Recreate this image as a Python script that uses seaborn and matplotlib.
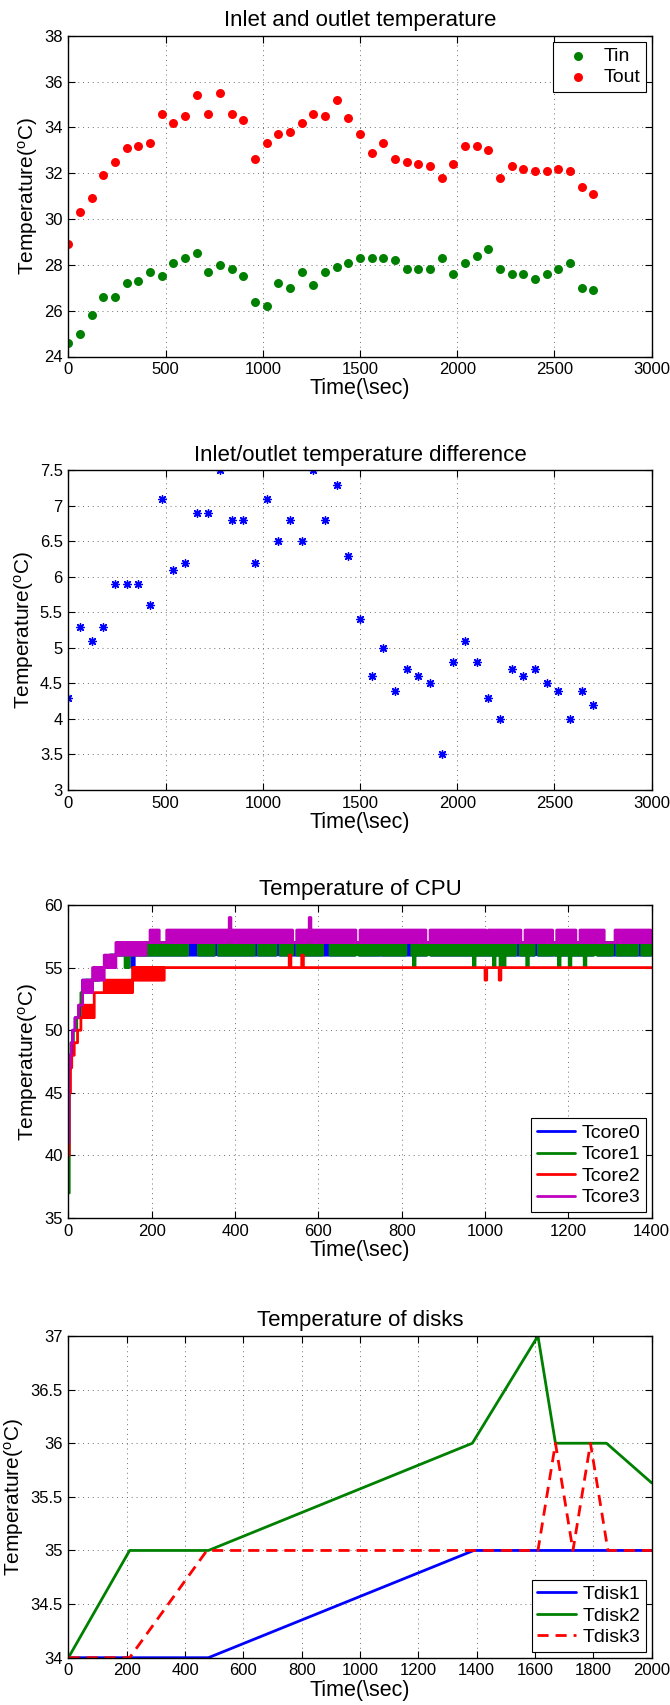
import numpy as np
import pandas as pd
import matplotlib
matplotlib.use("Agg")
import matplotlib.pyplot as plt
from matplotlib.ticker import FormatStrFormatter
import seaborn as sns

# ---------------- data: inlet / outlet ----------------
TIME_S = [0, 60, 120, 180, 240, 300, 360, 420, 480, 540, 600, 660, 720, 780, 840, 900,
          960, 1020, 1080, 1140, 1200, 1260, 1320, 1380, 1440, 1500, 1560, 1620, 1680,
          1740, 1800, 1860, 1920, 1980, 2040, 2100, 2160, 2220, 2280, 2340, 2400, 2460,
          2520, 2580, 2640, 2700]
T_IN = [24.6, 25.0, 25.8, 26.6, 26.6, 27.2, 27.3, 27.7, 27.5, 28.1, 28.3, 28.5, 27.7, 28.0,
        27.8, 27.5, 26.4, 26.2, 27.2, 27.0, 27.7, 27.1, 27.7, 27.9, 28.1, 28.3, 28.3, 28.3,
        28.2, 27.8, 27.8, 27.8, 28.3, 27.6, 28.1, 28.4, 28.7, 27.8, 27.6, 27.6, 27.4, 27.6,
        27.8, 28.1, 27.0, 26.9]
T_OUT = [28.9, 30.3, 30.9, 31.9, 32.5, 33.1, 33.2, 33.3, 34.6, 34.2, 34.5, 35.4, 34.6, 35.5,
         34.6, 34.3, 32.6, 33.3, 33.7, 33.8, 34.2, 34.6, 34.5, 35.2, 34.4, 33.7, 32.9, 33.3,
         32.6, 32.5, 32.4, 32.3, 31.8, 32.4, 33.2, 33.2, 33.0, 31.8, 32.3, 32.2, 32.1, 32.1,
         32.2, 32.1, 31.4, 31.1]
T_DIFF = [4.3, 5.3, 5.1, 5.3, 5.9, 5.9, 5.9, 5.6, 7.1, 6.1, 6.2, 6.9, 6.9, 7.5, 6.8, 6.8,
          6.2, 7.1, 6.5, 6.8, 6.5, 7.5, 6.8, 7.3, 6.3, 5.4, 4.6, 5.0, 4.4, 4.7, 4.6, 4.5,
          3.5, 4.8, 5.1, 4.8, 4.3, 4.0, 4.7, 4.6, 4.7, 4.5, 4.4, 4.0, 4.4, 4.2]

# ---------------- data: CPU cores ----------------
# warm-up segments (t0, t1, low, high): value fluctuates between low and high
TCORE0_RISE = [(0, 1, 40, 40), (1, 3, 46, 46), (3, 10, 48, 48), (10, 16, 50, 50),
               (16, 28, 51, 51), (28, 34, 52, 52), (34, 46, 53, 54), (46, 74, 54, 54),
               (74, 100, 55, 55), (100, 150, 56, 56), (150, 158, 55, 56), (158, 176, 56, 56)]
TCORE1_RISE = [(0, 2, 37, 37), (2, 6, 48, 48), (6, 12, 49, 49), (12, 20, 50, 50),
               (20, 26, 51, 51), (26, 30, 52, 52), (30, 42, 53, 53), (42, 70, 54, 54),
               (70, 100, 55, 55), (100, 134, 56, 56), (134, 146, 55, 56), (146, 178, 56, 56)]
TCORE2_RISE = [(0, 2, 40, 40), (2, 5, 45, 45), (5, 8, 47, 47), (8, 14, 48, 48),
               (14, 22, 49, 49), (22, 30, 50, 50), (30, 34, 51, 51), (34, 62, 51, 52),
               (62, 86, 53, 53), (86, 154, 53, 54), (154, 232, 54, 55)]
TCORE3_RISE = [(0, 1, 41, 41), (1, 4, 47, 47), (4, 7, 48, 48), (7, 10, 49, 49),
               (10, 16, 50, 50), (16, 24, 51, 51), (24, 34, 52, 52), (34, 58, 53, 54),
               (58, 86, 54, 55), (86, 114, 55, 56), (114, 186, 56, 57), (186, 196, 57, 57)]
# steady state band (start, low, high)
TCORE0_BAND = (176, 56, 57)
TCORE1_BAND = (178, 56, 57)
TCORE2_BAND = (232, 55, 55)
TCORE3_BAND = (196, 57, 58)
# intervals where the reading holds steady (t0, t1, value)
TCORE0_QUIET = [(352, 358, 57), (500, 506, 57), (690, 696, 57), (862, 868, 57),
                (1120, 1125, 57), (1262, 1267, 57)]
TCORE1_QUIET = [(286, 310, 57), (352, 358, 57), (445, 454, 57), (500, 506, 57),
                (538, 546, 57), (612, 626, 57), (690, 696, 57), (745, 751, 57),
                (812, 824, 57), (862, 868, 57), (1075, 1083, 57), (1120, 1125, 57),
                (1162, 1168, 57), (1262, 1267, 57), (1305, 1313, 57), (1368, 1374, 57)]
TCORE2_QUIET = []
TCORE3_QUIET = [(220, 236, 57), (540, 545, 57), (692, 700, 57), (860, 865, 57),
                (1001, 1006, 57), (1086, 1095, 57), (1162, 1169, 57), (1220, 1225, 57),
                (1288, 1312, 57)]
# short excursions (t, value)
TCORE0_SPIKES = []
TCORE1_SPIKES = [(828, 55), (972, 55), (1020, 55), (1036, 55), (1044, 55), (1099, 55),
                 (1176, 55), (1202, 55), (1238, 55)]
TCORE2_SPIKES = [(530, 56), (560, 56), (1000, 54), (1034, 54)]
TCORE3_SPIKES = [(385, 59), (577, 59)]
CPU_END = 1400

# ---------------- data: disks ----------------
DISK1_T = [0, 480, 1390, 2000]
TDISK1 = [34, 34, 35, 35]
DISK2_T = [0, 210, 480, 1385, 1610, 1670, 1845, 2000]
TDISK2 = [34, 35, 35, 36, 37, 36, 36, 35.63]
DISK3_T = [0, 210, 475, 1610, 1670, 1730, 1790, 1850, 2000]
TDISK3 = [34, 34, 35, 35, 36, 35, 36, 35, 35]

# ticks
P1_XTICKS = [0, 500, 1000, 1500, 2000, 2500, 3000]
P1_YTICKS = [24, 26, 28, 30, 32, 34, 36, 38]
P2_YTICKS = [3, 3.5, 4, 4.5, 5, 5.5, 6, 6.5, 7, 7.5]
P3_XTICKS = [0, 200, 400, 600, 800, 1000, 1200, 1400]
P3_YTICKS = [35, 40, 45, 50, 55, 60]
P4_XTICKS = [0, 200, 400, 600, 800, 1000, 1200, 1400, 1600, 1800, 2000]
P4_YTICKS = [34, 34.5, 35, 35.5, 36, 36.5, 37]


def expand(rise, band, quiet, spikes, t_end=CPU_END, dt=2, spike_len=4):
    ts, vs = [], []
    for t0, t1, lo, hi in rise:
        if lo == hi:
            ts.append(t0); vs.append(lo)
        else:
            t, k = t0, 0
            while t < t1:
                ts.append(t); vs.append(hi if k % 2 == 0 else lo)
                t += dt; k += 1
    t, k = band[0], 0
    while t < t_end:
        v = band[2] if k % 2 == 0 else band[1]
        for q0, q1, qv in quiet:
            if q0 <= t < q1:
                v = qv
        for st, sv in spikes:
            if st <= t < st + spike_len:
                v = sv
        ts.append(t); vs.append(v)
        t += dt; k += 1
    ts.append(t_end); vs.append(vs[-1])
    return np.array(ts, float), np.array(vs, float)


# ---------------- style ----------------
sns.set_theme(style="white")
plt.rcParams["font.family"] = ["Liberation Sans", "DejaVu Sans"]
plt.rcParams.update({
    "text.color": "black", "axes.labelcolor": "black",
    "xtick.color": "black", "ytick.color": "black",
    "axes.edgecolor": "black",
    "mathtext.fontset": "custom",
    "mathtext.rm": "Liberation Sans",
    "mathtext.it": "Liberation Sans",
    "mathtext.bf": "Liberation Sans:bold",
})

BLUE = "#0000FF"
GREEN = "#008000"
RED = "#FF0000"
MAGENTA = "#BF00BF"
YLABEL = r"Temperature($^{\mathrm{o}}$C)"

fig = plt.figure(figsize=(6.7, 17.05), dpi=100)
L, W = 68.4 / 670, 583.3 / 670
H = 1705.0


def add_axes(top, bottom):
    return fig.add_axes([L, 1 - bottom / H, W, (bottom - top) / H])


def style(ax, title, xlim, ylim, xticks, yticks):
    ax.set_xlim(xlim)
    ax.set_ylim(ylim)
    ax.set_xticks(xticks)
    ax.set_yticks(yticks)
    ax.xaxis.set_major_formatter(FormatStrFormatter("%g"))
    ax.yaxis.set_major_formatter(FormatStrFormatter("%g"))
    ax.set_title(title, fontsize=16, pad=7)
    ax.set_xlabel("Time(\\sec)", fontsize=15.5, labelpad=1)
    ax.set_ylabel(YLABEL, fontsize=15, labelpad=3)
    ax.grid(True, linestyle=(0, (1, 4)), color="#707070", linewidth=0.7)
    ax.set_axisbelow(True)
    ax.tick_params(direction="in", top=True, right=True, bottom=True, left=True,
                   length=5, width=0.8, labelsize=12, pad=4, colors="black")
    for sp in ax.spines.values():
        sp.set_visible(True)
        sp.set_color("black")
        sp.set_linewidth(1.0)


def legend(ax, loc, handlelength=2.0):
    leg = ax.legend(loc=loc, frameon=True, fancybox=False, edgecolor="black",
                    framealpha=1, fontsize=14, handlelength=handlelength,
                    handletextpad=0.3, labelspacing=0.2, borderpad=0.3,
                    borderaxespad=0.3)
    leg.get_frame().set_linewidth(0.8)


# ---- panel 1 ----
ax1 = add_axes(35.7, 356.5)
sns.scatterplot(x=TIME_S, y=T_IN, color=GREEN, edgecolor=GREEN, s=42, linewidth=0,
                label="Tin", ax=ax1)
sns.scatterplot(x=TIME_S, y=T_OUT, color=RED, edgecolor=RED, s=42, linewidth=0,
                label="Tout", ax=ax1)
style(ax1, "Inlet and outlet temperature", (0, 3000), (24, 38), P1_XTICKS, P1_YTICKS)
legend(ax1, "upper right")

# ---- panel 2 ----
ax2 = add_axes(470.3, 790)
sns.scatterplot(x=TIME_S, y=T_DIFF, color=BLUE, marker=(8, 2, 0), s=30, linewidth=1.0,
                ax=ax2)
style(ax2, "Inlet/outlet temperature difference", (0, 3000), (3, 7.5), P1_XTICKS, P2_YTICKS)

# ---- panel 3 ----
ax3 = add_axes(905, 1218)
cores = [
    ("Tcore0", BLUE, TCORE0_RISE, TCORE0_BAND, TCORE0_QUIET, TCORE0_SPIKES),
    ("Tcore1", GREEN, TCORE1_RISE, TCORE1_BAND, TCORE1_QUIET, TCORE1_SPIKES),
    ("Tcore2", RED, TCORE2_RISE, TCORE2_BAND, TCORE2_QUIET, TCORE2_SPIKES),
    ("Tcore3", MAGENTA, TCORE3_RISE, TCORE3_BAND, TCORE3_QUIET, TCORE3_SPIKES),
]
for name, col, rise, band, quiet, spikes in cores:
    ts, vs = expand(rise, band, quiet, spikes)
    sns.lineplot(x=ts, y=vs, color=col, linewidth=2.0, drawstyle="steps-post",
                 estimator=None, sort=False, errorbar=None, label=name, ax=ax3)
style(ax3, "Temperature of CPU", (0, 1400), (35, 60), P3_XTICKS, P3_YTICKS)
legend(ax3, "lower right")

# ---- panel 4 ----
ax4 = add_axes(1336, 1657.7)
sns.lineplot(x=DISK1_T, y=TDISK1, color=BLUE, linewidth=2.0, estimator=None, sort=False,
             errorbar=None, label="Tdisk1", ax=ax4)
sns.lineplot(x=DISK2_T, y=TDISK2, color=GREEN, linewidth=2.0, estimator=None, sort=False,
             errorbar=None, label="Tdisk2", ax=ax4)
sns.lineplot(x=DISK3_T, y=TDISK3, color=RED, linewidth=2.0, linestyle=(0, (4, 2.5)),
             estimator=None, sort=False, errorbar=None, label="Tdisk3", ax=ax4)
style(ax4, "Temperature of disks", (0, 2000), (34, 37), P4_XTICKS, P4_YTICKS)
legend(ax4, "lower right")

fig.savefig("out.png", dpi=100)
